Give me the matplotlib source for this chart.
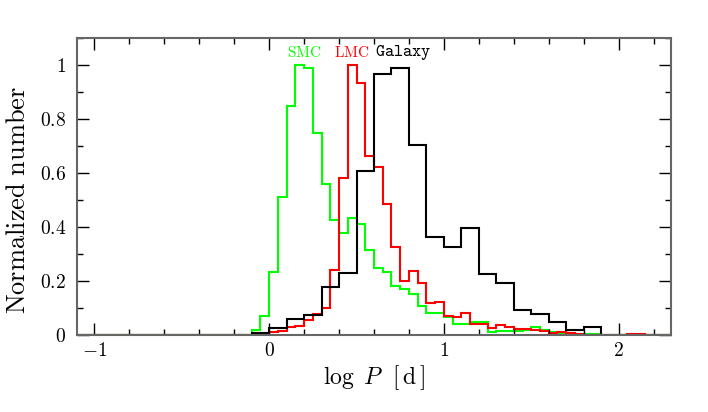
import numpy as np
import matplotlib
matplotlib.use("Agg")
import matplotlib.pyplot as plt
from matplotlib.ticker import MultipleLocator

plt.rcParams['mathtext.fontset'] = 'cm'
plt.rcParams['font.family'] = 'serif'
plt.rcParams['font.serif'] = ['cmr10', 'DejaVu Serif']
plt.rcParams['axes.formatter.use_mathtext'] = True

# ==== Data (normalized histograms of log P) ====
# SMC and LMC: bins of 0.05 starting at log P = -0.10
smc_start = -0.10
smc = [0.017, 0.072, 0.234, 0.512, 0.847, 1.000, 0.988, 0.747, 0.559, 0.426,
       0.376, 0.432, 0.410, 0.313, 0.248, 0.234, 0.180, 0.171, 0.152, 0.107,
       0.081, 0.080, 0.066, 0.039, 0.040, 0.050, 0.050, 0.012, 0.013, 0.014,
       0.016, 0.017, 0.028, 0.018, 0.012, 0.005, 0.004, 0.003, 0.003, 0.002,
       0.001]
lmc_start = -0.10
lmc = [0.002, 0.003, 0.010, 0.016, 0.028, 0.035, 0.056, 0.077, 0.099, 0.241,
       0.583, 1.000, 0.932, 0.663, 0.623, 0.484, 0.327, 0.200, 0.238, 0.194,
       0.117, 0.123, 0.070, 0.067, 0.080, 0.041, 0.041, 0.026, 0.037, 0.029,
       0.022, 0.021, 0.019, 0.016, 0.006, 0.011, 0.007, 0.002, 0.001, 0.000,
       0.000, 0.000, 0.000, 0.004, 0.004]
# Galaxy: bins of 0.1 starting at log P = -0.1
gal_start = -0.10
galaxy = [0.008, 0.025, 0.059, 0.075, 0.176, 0.228, 0.609, 0.965, 0.990, 0.702,
          0.363, 0.327, 0.396, 0.227, 0.193, 0.094, 0.076, 0.049, 0.018, 0.029]

xmin, xmax = -1.1, 2.3


def padded(values, start, width):
    # extend a histogram with empty bins out to the plot limits
    n_left = int(round((start - xmin) / width))
    n_right = int(round((xmax - start) / width)) - len(values)
    vals = np.concatenate([np.zeros(n_left), values, np.zeros(max(n_right, 0))])
    edges = xmin + width * np.arange(len(vals) + 1)
    return vals, edges


fig = plt.figure(figsize=(7.08, 4.12), dpi=100)
ax = fig.add_axes([77 / 708, 1 - 335 / 412, 594 / 708, 297 / 412])

v, e = padded(smc, smc_start, 0.05)
ax.stairs(v, e, color='#00ff00', linewidth=1.5)
v, e = padded(lmc, lmc_start, 0.05)
ax.stairs(v, e, color='#ff0000', linewidth=1.5)
v, e = padded(galaxy, gal_start, 0.1)
ax.stairs(v, e, color='black', linewidth=1.5)

ax.text(0.100, 1.048, r'$\mathrm{SMC}$', color='#00ff00', fontsize=11,
        ha='left', va='center')
ax.text(0.372, 1.048, r'$\mathrm{LMC}$', color='#ff0000', fontsize=11,
        ha='left', va='center')
ax.text(0.603, 1.048, r'$\mathtt{Galaxy}$', color='black', fontsize=12.5,
        ha='left', va='center')

ax.set_xlim(xmin, xmax)
ax.set_ylim(0, 1.1)
ax.set_xticks([-1, 0, 1, 2], [r'$-1$', r'$0$', r'$1$', r'$2$'])
ax.set_yticks([0, 0.2, 0.4, 0.6, 0.8, 1.0],
              [r'$0$', r'$0.2$', r'$0.4$', r'$0.6$', r'$0.8$', r'$1$'])
ax.xaxis.set_minor_locator(MultipleLocator(0.2))
ax.yaxis.set_minor_locator(MultipleLocator(0.1))
ax.tick_params(which='both', direction='in', top=True, right=True, width=1)
ax.tick_params(which='major', length=8.5, labelsize=14)
ax.tick_params(which='minor', length=4.3)
ax.tick_params(axis='y', pad=8)
ax.tick_params(axis='x', pad=5)
for s in ax.spines.values():
    s.set_color('0.4')
    s.set_linewidth(1.5)

ax.set_xlabel(r'$\log\ P\ \ [\,\mathrm{d}\,]$', fontsize=17)
ax.set_ylabel(r'$\mathrm{Normalized\ number}$', fontsize=19)
ax.xaxis.set_label_coords(0.5, -0.094)
ax.yaxis.set_label_coords(-0.079, 0.455)

fig.savefig('out.png', dpi=100)
